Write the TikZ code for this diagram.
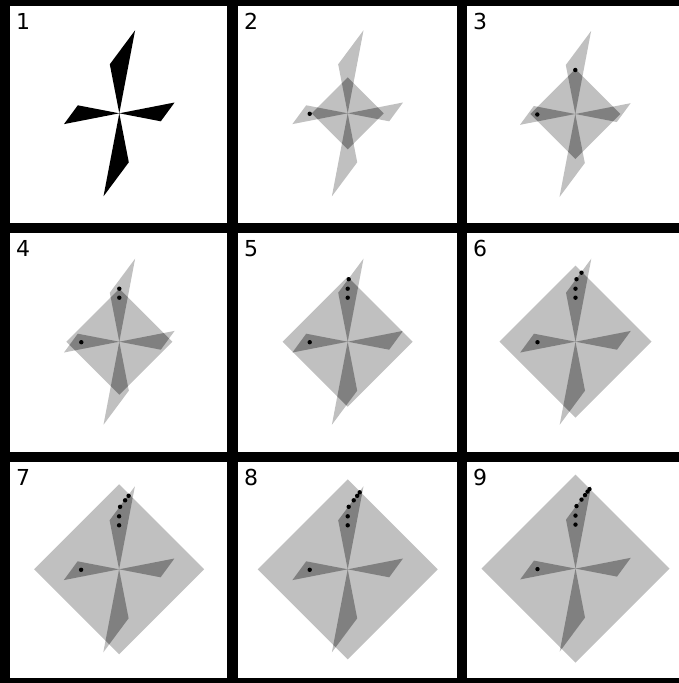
\documentclass[tikz,border=0pt]{standalone}
\usepackage{fontspec}
\newfontfamily\labfont{DejaVu Sans}
\definecolor{lightfill}{RGB}{192,192,192}
\definecolor{darkfill}{RGB}{128,128,128}
\newcommand{\pinpath}{(0,0) -- (-9.5,-49) -- (15.8,-83) -- cycle
 (0,0) -- (55.3,-10.8) -- (41.5,8) -- cycle
 (0,0) -- (9.5,49) -- (-15.8,83) -- cycle
 (0,0) -- (-55.3,10.8) -- (-41.5,-8) -- cycle}
\newcommand{\mypanel}[4]{%
\begin{scope}[shift={(#1,#2)}]
\fill[lightfill] \pinpath;
\fill[lightfill] (0,-#3) -- (#3,0) -- (0,#3) -- (-#3,0) -- cycle;
\begin{scope}
\clip (0,-#3) -- (#3,0) -- (0,#3) -- (-#3,0) -- cycle;
\fill[darkfill] \pinpath;
\end{scope}
\foreach \p in {#4} \fill[black] \p circle[radius=2.2];
\end{scope}}
\begin{document}
\begin{tikzpicture}[x=1pt,y=-1pt,
  lab/.style={anchor=base west,inner sep=0pt,font=\labfont\fontsize{22}{22}\selectfont}]
\useasboundingbox (0,0) rectangle (679,683);
\fill[black] (0,0) rectangle (679,683);
% panel interiors
\foreach \xa/\xb in {10/227,238/457,467/679}
  \foreach \ya/\yb in {6/223,233/452,462/678}
    \fill[white] (\xa,\ya) rectangle (\xb,\yb);
% panel 1
\begin{scope}[shift={(119.3,113.3)}]
\fill[black] \pinpath;
\end{scope}
% panels 2-9
\mypanel{347.7}{113.3}{36}{(-38,0.5)}
\mypanel{575.3}{114}{45}{(-38,0.5),(0,-44)}
\mypanel{119.3}{341.7}{53}{(-38,0.5),(0,-44),(0,-53)}
\mypanel{347.7}{341.7}{65}{(-38,0.5),(0,-44),(0,-53),(1,-62.5)}
\mypanel{575.5}{341.7}{76}{(-38,0.5),(0,-44),(0,-53),(1,-62.5),(6,-69)}
\mypanel{119.1}{569.3}{85}{(-38,0.5),(0,-44),(0,-53),(1,-62.5),(6,-69),(9.5,-73.5)}
\mypanel{347.7}{569.3}{90}{(-38,0.5),(0,-44),(0,-53),(1,-62.5),(6,-69),(9.5,-73.5),(12,-77)}
\mypanel{575.5}{568.6}{94}{(-38,0.5),(0,-44),(0,-53),(1,-62.5),(6,-69),(9.5,-73.5),(12,-77),(14,-79.5)}
% labels
\node[lab] (lab1) at (16,29.5) {1};
\node[lab] (lab2) at (244,29.5) {2};
\node[lab] (lab3) at (473,29.5) {3};
\node[lab] (lab4) at (16,256.5) {4};
\node[lab] (lab5) at (244,256.5) {5};
\node[lab] (lab6) at (473,256.5) {6};
\node[lab] (lab7) at (16,485.5) {7};
\node[lab] (lab8) at (244,485.5) {8};
\node[lab] (lab9) at (473,485.5) {9};
\end{tikzpicture}
\end{document}
